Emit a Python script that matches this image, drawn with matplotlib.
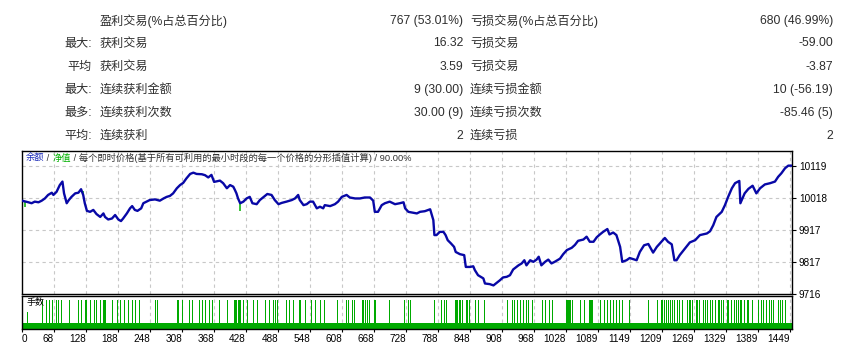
import matplotlib.pyplot as plt

plt.rcParams['font.family'] = ['Liberation Sans', 'Noto Sans CJK SC']

# --- summary table (top) ---
left_prefix = ["", "最大:", "平均", "最大:", "最多:", "平均:"]
left_label = ["盈利交易(%占总百分比)", "获利交易", "获利交易", "连续获利金额", "连续获利次数", "连续获利"]
left_value = ["767 (53.01%)", "16.32", "3.59", "9 (30.00)", "30.00 (9)", "2"]
right_label = ["亏损交易(%占总百分比)", "亏损交易", "亏损交易", "连续亏损金额", "连续亏损次数", "连续亏损"]
right_value = ["680 (46.99%)", "-59.00", "-3.87", "10 (-56.19)", "-85.46 (5)", "2"]

# --- balance curve (trade number, balance) ---
bal_t = [0, 12, 18, 24, 31, 37, 43, 49, 56, 59, 65, 71, 76, 79, 84, 88, 93, 100, 106, 111,
         115, 118, 122, 128, 134, 140, 147, 153, 156, 162, 169, 175, 181, 186, 190, 197, 203, 207, 212, 217,
         224, 228, 234, 240, 250, 259, 266, 272, 278, 284, 291, 297, 303, 309, 316, 322, 328, 338, 344, 350,
         356, 361, 372, 378, 385, 391, 397, 400, 403, 406, 410, 416, 422, 428, 433, 441, 447, 453, 461, 469,
         475, 482, 488, 497, 507, 513, 519, 522, 529, 535, 541, 547, 554, 560, 566, 569, 579, 588, 594, 601,
         610, 616, 626, 635, 644, 654, 660, 663, 669, 676, 682, 691, 701, 710, 717, 720, 726, 735, 742, 748,
         757, 767, 773, 775, 779, 785, 792, 796, 800, 806, 812, 815, 823, 831, 834, 842, 848, 851, 857, 867,
         870, 879, 886, 892, 898, 904, 911, 917, 923, 933, 939, 944, 948, 955, 961, 967, 971, 976, 983, 989,
         995, 1001, 1011, 1017, 1024, 1033, 1039, 1045, 1055, 1061, 1067, 1074, 1080, 1086, 1092, 1100, 1104, 1111, 1117, 1124,
         1128, 1136, 1142, 1155, 1161, 1169, 1177, 1186, 1193, 1199, 1208, 1214, 1221, 1226, 1230, 1236, 1246, 1255, 1265, 1274,
         1287, 1293, 1299, 1305, 1315, 1321, 1327, 1334, 1340, 1348, 1350, 1358, 1365, 1373, 1380, 1387, 1396, 1406, 1415, 1421,
         1427, 1434, 1440, 1445]
bal_v = [10009, 10004, 10001, 10006, 10004, 10009, 10016, 10027, 10034, 10027, 10037, 10058, 10069, 10032, 10001, 10011, 10021, 10032, 10034, 10045,
         10027, 10001, 9977, 9974, 9980, 9967, 9958, 9969, 9958, 9950, 9953, 9964, 9950, 9945, 9953, 9969, 9985, 9992, 9980, 9977,
         9985, 10001, 10006, 10011, 10013, 10009, 10016, 10021, 10024, 10032, 10048, 10058, 10065, 10079, 10093, 10097, 10093, 10092, 10089, 10082,
         10090, 10068, 10072, 10064, 10048, 10058, 10053, 10043, 10032, 10016, 10001, 10006, 10016, 10021, 10001, 9998, 10011, 10019, 10030, 10027,
         10011, 9998, 10002, 10006, 10011, 10016, 10027, 10011, 9995, 9998, 10006, 10006, 9985, 9990, 9985, 9995, 9992, 9998, 10006, 10021,
         10027, 10019, 10016, 10016, 10019, 10019, 10009, 9974, 9974, 9995, 10001, 10006, 9998, 10001, 10004, 9985, 9974, 9971, 9969, 9974,
         9976, 9982, 9948, 9901, 9901, 9911, 9911, 9901, 9885, 9875, 9864, 9848, 9841, 9838, 9801, 9801, 9803, 9791, 9775, 9765,
         9749, 9747, 9743, 9751, 9759, 9768, 9770, 9775, 9793, 9806, 9812, 9822, 9806, 9822, 9817, 9824, 9833, 9806, 9817, 9824,
         9812, 9817, 9827, 9841, 9854, 9861, 9870, 9883, 9887, 9896, 9880, 9880, 9894, 9903, 9911, 9920, 9903, 9909, 9901, 9864,
         9817, 9822, 9829, 9822, 9848, 9869, 9873, 9846, 9864, 9875, 9892, 9880, 9872, 9822, 9822, 9838, 9859, 9878, 9885, 9901,
         9906, 9913, 9932, 9958, 9974, 9995, 10021, 10048, 10064, 10071, 10001, 10032, 10046, 10056, 10032, 10048, 10060, 10064, 10069, 10084,
         10095, 10111, 10119, 10119]

# equity dips below balance (trade, balance, equity low)
eq_t = [5, 114, 410, 470, 519, 812, 908]
eq_hi = [10007, 10040, 10001, 10027, 10027, 9864, 9770]
eq_lo = [9988, 10030, 9977, 10020, 10018, 9860, 9766]

# --- lots panel ---
n_trades = 1447
base_lot = 0.1
mid_lot = 0.3
big_lot = 0.5
mid_trades = [9]
big_trades = [38, 46, 51, 57, 63, 68, 73, 88, 89, 105, 111, 118, 120, 121, 128, 135, 140, 147, 152, 154,
              156, 170, 179, 184, 192, 200, 207, 212, 219, 250, 253, 291, 294, 301, 314, 319, 332, 338, 343, 351,
              357, 370, 371, 385, 398, 400, 402, 405, 407, 410, 415, 423, 435, 442, 457, 464, 472, 476, 479, 496,
              502, 510, 521, 523, 532, 544, 551, 560, 568, 592, 608, 613, 620, 623, 639, 641, 644, 648, 652, 661,
              663, 690, 718, 726, 729, 775, 787, 793, 797, 813, 816, 818, 821, 823, 827, 834, 836, 840, 852, 856,
              869, 911, 920, 925, 930, 936, 941, 947, 950, 959, 978, 983, 990, 996, 1022, 1024, 1026, 1028, 1030, 1034,
              1049, 1056, 1066, 1068, 1070, 1072, 1087, 1093, 1099, 1105, 1111, 1117, 1122, 1127, 1141, 1177, 1194, 1200, 1203, 1207,
              1210, 1214, 1218, 1221, 1225, 1230, 1235, 1241, 1250, 1253, 1256, 1260, 1266, 1269, 1273, 1279, 1283, 1288, 1292, 1297,
              1303, 1307, 1310, 1313, 1318, 1324, 1327, 1333, 1338, 1342, 1346, 1349, 1352, 1357, 1362, 1365, 1372, 1384, 1388, 1393,
              1398, 1403, 1407, 1412, 1421, 1424, 1428, 1433]

x_labels = ["0", "68", "128", "188", "248", "308", "368", "428", "488", "548", "608", "668", "728",
            "788", "848", "908", "968", "1028", "1089", "1149", "1209", "1269", "1329", "1389", "1449"]
y_ticks = [9716, 9817, 9917, 10018, 10119]

W, H = 845, 346
fig = plt.figure(figsize=(W / 100, H / 100), dpi=100)


def px_box(l, t, r, b):
    return [l / W, 1 - b / H, (r - l) / W, (b - t) / H]


def ftext(x, y, s, **kw):
    return fig.text(x / W, 1 - y / H, s, va='center', **kw)


# summary table
txt_col = '#2e2e2e'
row_y = [20.7, 43.5, 66.5, 89.8, 113, 136]
for i, y in enumerate(row_y):
    if left_prefix[i]:
        ftext(92, y, left_prefix[i], ha='right', fontsize=8.7, color=txt_col)
    ftext(100, y, left_label[i], ha='left', fontsize=8.7, color=txt_col)
    ftext(463, y, left_value[i], ha='right', fontsize=8.7, color=txt_col)
    ftext(470, y, right_label[i], ha='left', fontsize=8.7, color=txt_col)
    ftext(833, y, right_value[i], ha='right', fontsize=8.7, color=txt_col)

# grid positions: one gridline every 32 px of the 770 px wide panel
grid_step = n_trades * 32 / 770
x_grid = [k * grid_step for k in range(len(x_labels))]
grid_kw = dict(color='#c8c8c8', linestyle=(0, (3, 3)), linewidth=0.8)

# balance chart
ax = fig.add_axes(px_box(22, 151, 792, 294))
ax.set_xlim(0, n_trades)
ax.set_ylim(9716, 10165)
for gx in x_grid[1:]:
    ax.axvline(gx, **grid_kw, zorder=0)
for gy in y_ticks[1:]:
    ax.axhline(gy, **grid_kw, zorder=0)
ax.vlines(eq_t, eq_lo, eq_hi, color='#00b000', linewidth=1.1, zorder=2)
ax.plot(bal_t, bal_v, color='#0808a6', linewidth=1.7, zorder=3)
ax.set_xticks([])
ax.yaxis.tick_right()
ax.set_yticks(y_ticks, [str(v) for v in y_ticks])
ax.tick_params(axis='y', length=3, pad=2, labelsize=7.2, colors='black')
for s in ax.spines.values():
    s.set_linewidth(1.0)

# legend line inside chart
fs_leg = 6.7
t1 = ftext(26, 158, "余额", ha='left', fontsize=fs_leg, color='#1a2ab8')
ann = ax.annotate(" / ", xy=(1, 0), xycoords=t1, va='bottom', fontsize=fs_leg, color='#333333')
ann2 = ax.annotate("净值", xy=(1, 0), xycoords=ann, va='bottom', fontsize=fs_leg, color='#00b000')
ax.annotate(" / 每个即时价格(基于所有可利用的最小时段的每一个价格的分形插值计算) / 90.00%", xy=(1, 0),
            xycoords=ann2, va='bottom', fontsize=fs_leg, color='#333333')

# lots panel
axl = fig.add_axes(px_box(22, 296, 792, 329.3))
axl.set_xlim(0, n_trades)
axl.set_ylim(0, 0.57)
for gx in x_grid[1:]:
    axl.axvline(gx, **grid_kw, zorder=0)
axl.fill_between([0, n_trades], 0, base_lot, color='#00aa00', linewidth=0, zorder=2)
axl.vlines(big_trades, 0, big_lot, color='#00aa00', linewidth=0.72, antialiased=False, zorder=2)
axl.vlines(mid_trades, 0, mid_lot, color='#00aa00', linewidth=0.72, antialiased=False, zorder=2)
axl.set_yticks([])
axl.set_xticks(x_grid, x_labels)
axl.tick_params(axis='x', length=2, pad=1.5, labelsize=7.2, colors='black')
for i, lab in enumerate(axl.get_xticklabels()):
    lab.set_ha('left' if i == 0 else 'right')
for s in axl.spines.values():
    s.set_linewidth(1.0)
axl.text(0.006, 0.8, "手数", transform=axl.transAxes, fontsize=6.5, color='black', va='center')

fig.savefig("out.png", dpi=100)
